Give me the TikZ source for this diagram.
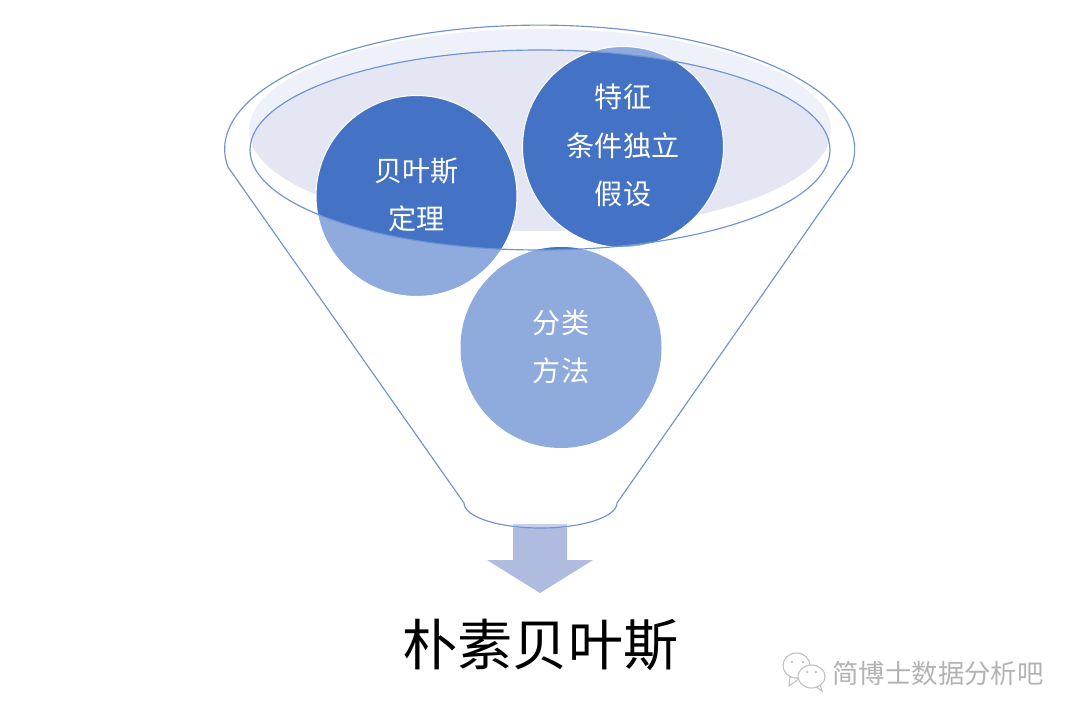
\documentclass[tikz,border=0pt]{standalone}
\usepackage{xcolor}
\usepackage{fontspec}
\setmainfont{Noto Sans CJK SC}
\usetikzlibrary{shapes.geometric}
\definecolor{funnelline}{HTML}{6F93D3}
\definecolor{darkball}{HTML}{4472C4}
\definecolor{lightball}{HTML}{8FAADC}
\definecolor{rimfill}{HTML}{EEF1F9}
\definecolor{mouthfill}{HTML}{E4E7F3}
\definecolor{arrowfill}{HTML}{AFBBDF}
\definecolor{stubfill}{HTML}{C6D0E9}

\begin{document}
\begin{tikzpicture}[
    balltext/.style={text=white, align=center, font=\fontsize{8}{13.8}\selectfont},
    rim/.style={draw=funnelline, line width=0.33pt},
    bubble/.style={shape=ellipse, draw=black!25, fill=white, line width=0.3pt, inner sep=0pt},
    tail/.style={draw=black!25, fill=white, line width=0.3pt},
    eye/.style={fill=black!30}]
    \useasboundingbox (0,0) rectangle (10.8,7.21);

    % filled mouth of the funnel
    \fill[rimfill] (5.40,5.91) ellipse [x radius=2.91, y radius=1.01];
    \begin{scope}
      \clip (5.40,5.71) ellipse [x radius=2.90, y radius=1.00];
      \fill[mouthfill] (5.40,5.91) ellipse [x radius=2.91, y radius=1.01];
    \end{scope}

    % the three balls, darker where they lie inside the mouth
    \fill[lightball] (4.165,5.25) circle (1.005);
    \fill[lightball] (6.23,5.74) circle (1.005);
    \fill[lightball] (5.61,3.735) circle (1.005);
    \begin{scope}
      \clip (5.40,5.71) ellipse [x radius=2.90, y radius=1.00];
      \fill[darkball] (4.165,5.25) circle (1.005);
      \fill[darkball] (6.23,5.74) circle (1.005);
      \fill[darkball] (5.61,3.735) circle (1.005);
    \end{scope}
    \draw[white, line width=0.3pt] (4.165,5.25) circle (1.005);
    \draw[white, line width=0.3pt] (6.23,5.74) circle (1.005);

    \node[balltext] (bayes) at (4.165,5.26) {贝叶斯\\定理};
    \node[balltext] (feature) at (6.23,5.755) {特征\\条件独立\\假设};
    \node[balltext] (method) at (5.61,3.74) {分类\\方法};

    % arrow out of the funnel
    \fill[arrowfill] (5.13,1.93) -- (5.67,1.93) -- (5.67,1.61) -- (5.93,1.61)
      -- (5.40,1.28) -- (4.87,1.61) -- (5.13,1.61) -- cycle;
    \fill[stubfill] (5.13,1.97) rectangle (5.67,1.93);

    % funnel outline
    \draw[rim] (5.40,5.71) ellipse [x radius=2.90, y radius=1.00];
    \draw[rim] (2.28,5.54) arc [start angle=188.3, end angle=-8.3, x radius=3.15, y radius=1.24]
      -- (6.17,2.18) arc [start angle=0, end angle=-180, x radius=0.765, y radius=0.25] -- cycle;

    \node[font=\fontsize{15.7}{18}\selectfont] (title) at (5.405,0.76) {朴素贝叶斯};

    % watermark
    \draw[tail] (7.90,0.44) -- (7.89,0.35) -- (8.00,0.43) -- cycle;
    \draw[tail] (8.15,0.35) -- (8.22,0.30) -- (8.20,0.37) -- cycle;
    \node[bubble, minimum width=0.27cm, minimum height=0.25cm] (chatleft) at (7.965,0.555) {};
    \node[bubble, minimum width=0.27cm, minimum height=0.23cm] (chatright) at (8.115,0.445) {};
    \fill[eye] (7.92,0.59) circle (0.012) (8.03,0.59) circle (0.012);
    \fill[eye] (8.07,0.49) circle (0.012) (8.16,0.49) circle (0.012);
    \node[font=\fontsize{7.5}{9}\selectfont, text=black!30] (mark) at (9.38,0.48) {简博士数据分析吧};
  \end{tikzpicture}
\end{document}
